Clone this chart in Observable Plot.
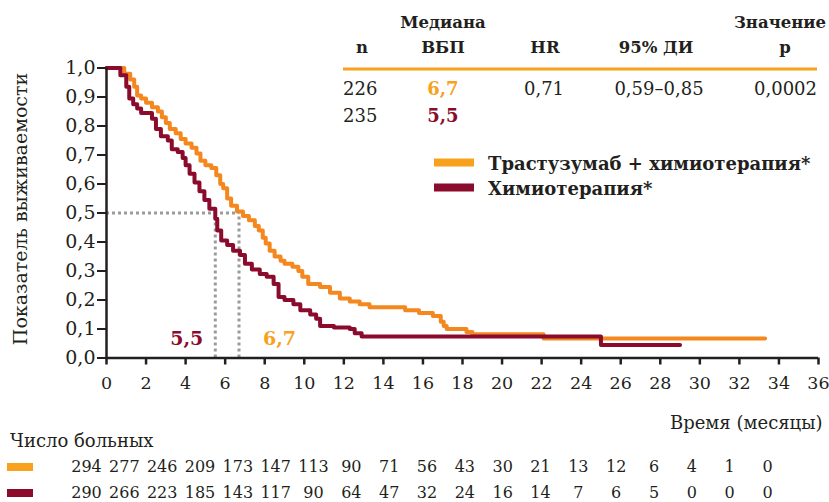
<!DOCTYPE html>
<html><head><meta charset="utf-8">
<script src="https://cdn.jsdelivr.net/npm/d3@7"></script>
<script src="https://cdn.jsdelivr.net/npm/@observablehq/plot@0.6"></script>
<style>
body{margin:0;background:#fff;}
#wrap{position:relative;width:829px;height:502px;overflow:hidden;background:#fff}
#wrap svg{position:absolute;left:0;display:block}
</style></head><body><div id="wrap"></div>
<script>
// ---- data ----
const xTicks = d3.range(0, 37, 2);
const yTicks = d3.range(0, 11).map(d => d / 10);
const trastTime = [0,0.9,1.2,1.4,1.55,1.75,2.0,2.3,2.6,2.8,3.0,3.2,3.5,3.75,4.0,4.3,4.55,4.75,5.0,5.3,5.55,5.75,5.9,6.1,6.3,6.6,6.9,7.2,7.5,7.7,7.9,8.05,8.25,8.5,8.8,9.0,9.4,9.7,9.9,10.2,10.8,11.3,11.8,12.3,12.8,13.3,15.1,15.8,16.5,16.9,17.05,17.2,18.2,18.5,22.1,33.3];
const trastSurv = [1,0.98,0.96,0.935,0.905,0.895,0.88,0.865,0.85,0.83,0.81,0.79,0.775,0.755,0.74,0.725,0.705,0.68,0.665,0.655,0.63,0.60,0.585,0.55,0.525,0.505,0.49,0.475,0.455,0.44,0.415,0.395,0.37,0.35,0.335,0.325,0.315,0.30,0.28,0.255,0.245,0.225,0.205,0.195,0.185,0.175,0.165,0.155,0.145,0.125,0.11,0.10,0.09,0.082,0.067,0.067];
const chemoTime = [0,0.7,1.0,1.15,1.35,1.55,1.75,2.3,2.5,2.75,3.1,3.3,3.6,3.85,4.0,4.2,4.45,4.7,4.95,5.2,5.5,5.6,5.8,6.1,6.4,6.75,7.0,7.35,7.75,8.1,8.45,8.7,9.0,9.45,9.8,10.3,10.6,10.8,11.5,12.3,12.55,12.9,25.0,29.0];
const chemoSurv = [1,0.975,0.935,0.895,0.875,0.86,0.845,0.825,0.79,0.765,0.75,0.72,0.71,0.69,0.665,0.635,0.605,0.575,0.545,0.515,0.48,0.44,0.405,0.39,0.37,0.355,0.325,0.305,0.29,0.28,0.255,0.21,0.20,0.185,0.165,0.15,0.135,0.11,0.105,0.10,0.085,0.074,0.045,0.045];
const medians = [6.7, 5.5];
const medianLabels = ["6,7", "5,5"];
const seriesNames = ["Трастузумаб + химиотерапия*", "Химиотерапия*"];
const nPatients = ["226", "235"];
const hrText = "0,71";
const ciText = "0,59–0,85";
const pText = "0,0002";
const riskTrast = [294,277,246,209,173,147,113,90,71,56,43,30,21,13,12,6,4,1,0];
const riskChemo = [290,266,223,185,143,117,90,64,47,32,24,16,14,7,6,5,0,0,0];

// ---- styles ----
const FONT = "DejaVu Serif";
const INK = "#231f20";
const ORANGE_LINE = "#F5871F";
const ORANGE = "#F7A11C";
const MAROON = "#8A0B2C";
const GRAY = "#9b9b9b";

const trast = trastTime.map((t, i) => ({t, s: trastSurv[i]}));
const chemo = chemoTime.map((t, i) => ({t, s: chemoSurv[i]}));
const medRows = medians.map((m, i) => ({m, label: medianLabels[i]}));
const fmt = d => d.toFixed(1).replace(".", ",");

const wrap = document.getElementById("wrap");

const main = Plot.plot({
  width: 829, height: 430,
  marginLeft: 106, marginRight: 11, marginTop: 67.5, marginBottom: 72.5,
  style: {fontFamily: FONT, fontSize: "18px", color: INK, background: "transparent", overflow: "visible"},
  x: {domain: [0, 36]},
  y: {domain: [0, 1]},
  marks: [
    Plot.ruleY([{y: 0.5, x2: medians[0]}], {y: "y", x1: 0, x2: "x2", stroke: GRAY, strokeWidth: 3, strokeDasharray: "3,3"}),
    Plot.ruleX(medRows, {x: "m", y1: 0, y2: 0.5, stroke: GRAY, strokeWidth: 3, strokeDasharray: "3,3"}),
    Plot.line(trast, {x: "t", y: "s", curve: "step-after", stroke: ORANGE_LINE, strokeWidth: 4}),
    Plot.line(chemo, {x: "t", y: "s", curve: "step-after", stroke: MAROON, strokeWidth: 4}),
    Plot.axisX({ticks: xTicks, tickSize: 7, tickPadding: 12, label: null, tickFormat: d => String(d), strokeWidth: 2.5, fontSize: 17.5}),
    Plot.axisY({ticks: yTicks, tickSize: 9, tickPadding: 2, label: null, tickFormat: fmt, strokeWidth: 2, fontSize: 19}),
    Plot.ruleX([0], {y1: 0, y2: 1, stroke: INK, strokeWidth: 2.5}),
    Plot.ruleY([0], {x1: 0, x2: 36, stroke: INK, strokeWidth: 2.5}),
    Plot.text([medRows[1]], {x: "m", y: 0, text: "label", dx: -12, dy: -19, textAnchor: "end", fill: MAROON, fontWeight: "bold", fontSize: 19}),
    Plot.text([medRows[0]], {x: "m", y: 0, text: "label", dx: 24, dy: -19, textAnchor: "start", fill: ORANGE, fontWeight: "bold", fontSize: 19}),
    Plot.text(["Показатель выживаемости"], {frameAnchor: "left", dx: -86, dy: -4, rotate: -90, textAnchor: "middle", fontSize: 19}),
    Plot.text(["Время (месяцы)"], {frameAnchor: "bottom-right", dx: 4, dy: 65, textAnchor: "end", lineAnchor: "middle", fontSize: 18})
  ]
});
main.style.top = "0px";
wrap.appendChild(main);

// table + legend overlay inside the main svg
const g = d3.select(main).append("g").attr("font-family", FONT).attr("fill", INK);
function txt(s, x, y, anchor, opts = {}) {
  g.append("text").attr("x", x).attr("y", y).attr("text-anchor", anchor)
    .attr("font-size", opts.size || 18).attr("font-weight", opts.bold ? "bold" : "normal")
    .attr("fill", opts.color || INK).text(s);
}
const HS = 16.5;
txt("Медиана", 443, 28, "middle", {bold: true, size: HS});
txt("n", 362, 53, "middle", {bold: true, size: HS});
txt("ВБП", 443, 53, "middle", {bold: true, size: HS});
txt("HR", 545, 53, "middle", {bold: true, size: HS});
txt("95% ДИ", 656, 53, "middle", {bold: true, size: HS});
txt("Значение", 780, 28, "middle", {bold: true, size: HS});
txt("р", 785, 53, "middle", {bold: true, size: HS});
g.append("rect").attr("x", 343).attr("y", 67.5).attr("width", 474).attr("height", 3).attr("fill", ORANGE);
txt(nPatients[0], 343, 95, "start");
txt(nPatients[1], 343, 122, "start");
txt(medianLabels[0], 443, 95, "middle", {bold: true, color: ORANGE});
txt(medianLabels[1], 443, 122, "middle", {bold: true, color: MAROON});
txt(hrText, 544, 95, "middle");
txt(ciText, 659, 95, "middle");
txt(pText, 817, 95, "end");
// legend
g.append("rect").attr("x", 434).attr("y", 158.5).attr("width", 40).attr("height", 8).attr("fill", ORANGE);
g.append("rect").attr("x", 434).attr("y", 183.5).attr("width", 40).attr("height", 8).attr("fill", MAROON);
txt(seriesNames[0], 488, 170, "start", {bold: true});
txt(seriesNames[1], 488, 195, "start", {bold: true});

// at-risk table
const riskRows = [];
riskTrast.forEach((v, i) => riskRows.push({i, row: 0, v}));
riskChemo.forEach((v, i) => riskRows.push({i, row: 1, v}));
const risk = Plot.plot({
  width: 829, height: 72,
  margin: 0,
  style: {fontFamily: FONT, fontSize: "16px", color: INK, background: "transparent", overflow: "visible"},
  x: {domain: [0, riskTrast.length - 1], range: [86, 767], axis: null},
  y: {domain: [0, 1], range: [36, 62], axis: null},
  marks: [
    Plot.text(riskRows, {x: "i", y: "row", text: d => String(d.v), fontSize: 16, fill: INK})
  ]
});
risk.style.top = "430px";
wrap.appendChild(risk);
const g2 = d3.select(risk).append("g").attr("font-family", FONT);
g2.append("text").attr("x", 10).attr("y", 17).attr("text-anchor", "start").attr("font-size", 18).attr("fill", INK).text("Число больных");
g2.append("rect").attr("x", 7).attr("y", 33).attr("width", 26).attr("height", 8).attr("fill", ORANGE);
g2.append("rect").attr("x", 7).attr("y", 59).attr("width", 26).attr("height", 8).attr("fill", MAROON);
</script></body></html>
